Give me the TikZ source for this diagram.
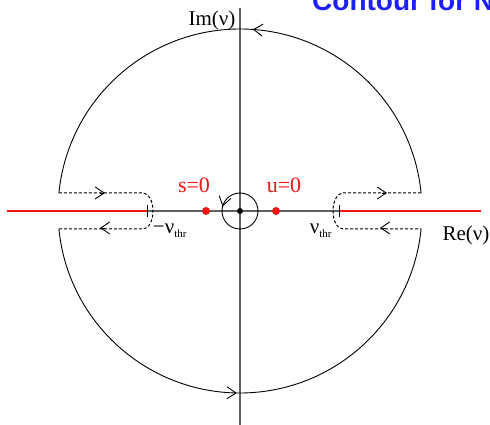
\documentclass[tikz,border=0pt]{standalone}
\usepackage{fontspec}
\setmainfont{Liberation Serif}
\newfontfamily\titlefont{Liberation Sans}
\usetikzlibrary{arrows.meta,decorations.markings}
\definecolor{axisgray}{RGB}{96,96,96}
\definecolor{cutred}{RGB}{240,20,20}
\definecolor{titleblue}{RGB}{30,30,255}
\tikzset{
  barb/.style={-{Straight Barb[length=9pt,width=12pt,line width=0.9pt]}},
  contour/.style={line width=0.9pt, black},
  dashcontour/.style={line width=1pt, black, dash pattern=on 3pt off 2pt},
  lbl/.style={font=\fontsize{21}{23}\selectfont, inner sep=0pt},
  redlbl/.style={font=\fontsize{22}{24}\selectfont, text=cutred, inner sep=0pt},
}
\begin{document}
\begin{tikzpicture}[x=1pt,y=1pt]
\useasboundingbox (-240,-214) rectangle (250,211);
% title (clipped at top)
\node[anchor=base west, inner sep=0pt, text=titleblue, font=\titlefont\bfseries\fontsize{28}{30}\selectfont] (title) at (72,200) {Contour for N};
% axes
\draw[axisgray, line width=1.1pt] (0,-214) -- (0,203);
\draw[axisgray, line width=1.1pt] (-93,0) -- (100,0);
% cuts
\draw[cutred, line width=2pt] (-233,0) -- (-93,0);
\draw[cutred, line width=2pt] (100,0) -- (241,0);
% ticks
\draw[contour] (-93,-6) -- (-93,6);
\draw[contour] (99,-6) -- (99,6);
% big arcs
\draw[contour, postaction={decorate}, decoration={markings, mark=at position 0.476 with {\arrow{Straight Barb[length=9pt,width=12pt,line width=0.9pt]}}}]
  (5.67:182) arc[start angle=5.67, end angle=174.33, radius=182];
\draw[contour, postaction={decorate}, decoration={markings, mark=at position 0.494 with {\arrow{Straight Barb[length=9pt,width=12pt,line width=0.9pt]}}}]
  (185.67:182) arc[start angle=185.67, end angle=354.33, radius=182];
% keyhole detours
\draw[dashcontour] (-181.1,18) -- (-97,18) arc[start angle=90, end angle=-90, x radius=10, y radius=18] -- (-181.1,-18);
\draw[dashcontour] (181.1,18) -- (103,18) arc[start angle=90, end angle=270, x radius=10, y radius=18] -- (181.1,-18);
% arrowheads on detours
\draw[contour, barb] (-140,18) -- (-135,18);
\draw[contour, barb] (-135,-17) -- (-140,-17);
\draw[contour, barb] (142,18) -- (147,18);
\draw[contour, barb] (145,-17) -- (140,-17);
% small circle
\draw[contour, postaction={decorate}, decoration={markings, mark=at position 0.46 with {\arrow{Straight Barb[length=9pt,width=12pt,line width=0.9pt]}}}]
  (0,0) circle[radius=18];
% dots
\fill[black] (0,0) circle[radius=3];
\fill[cutred] (-34,0) circle[radius=4];
\fill[cutred] (36,0) circle[radius=4];
% labels
\node[redlbl, anchor=base] (s0) at (-46,18) {s=0};
\node[redlbl, anchor=base] (u0) at (44,18) {u=0};
\node[lbl, anchor=base] (mnu) at (-70,-23) {−ν\textsubscript{\fontsize{11}{12}\selectfont thr}};
\node[lbl, anchor=base] (pnu) at (81,-23) {ν\textsubscript{\fontsize{11}{12}\selectfont thr}};
\node[lbl, anchor=base] (re) at (226,-30) {Re(ν)};
\node[lbl, anchor=base] (im) at (-28,185) {Im(ν)};
\end{tikzpicture}
\end{document}
